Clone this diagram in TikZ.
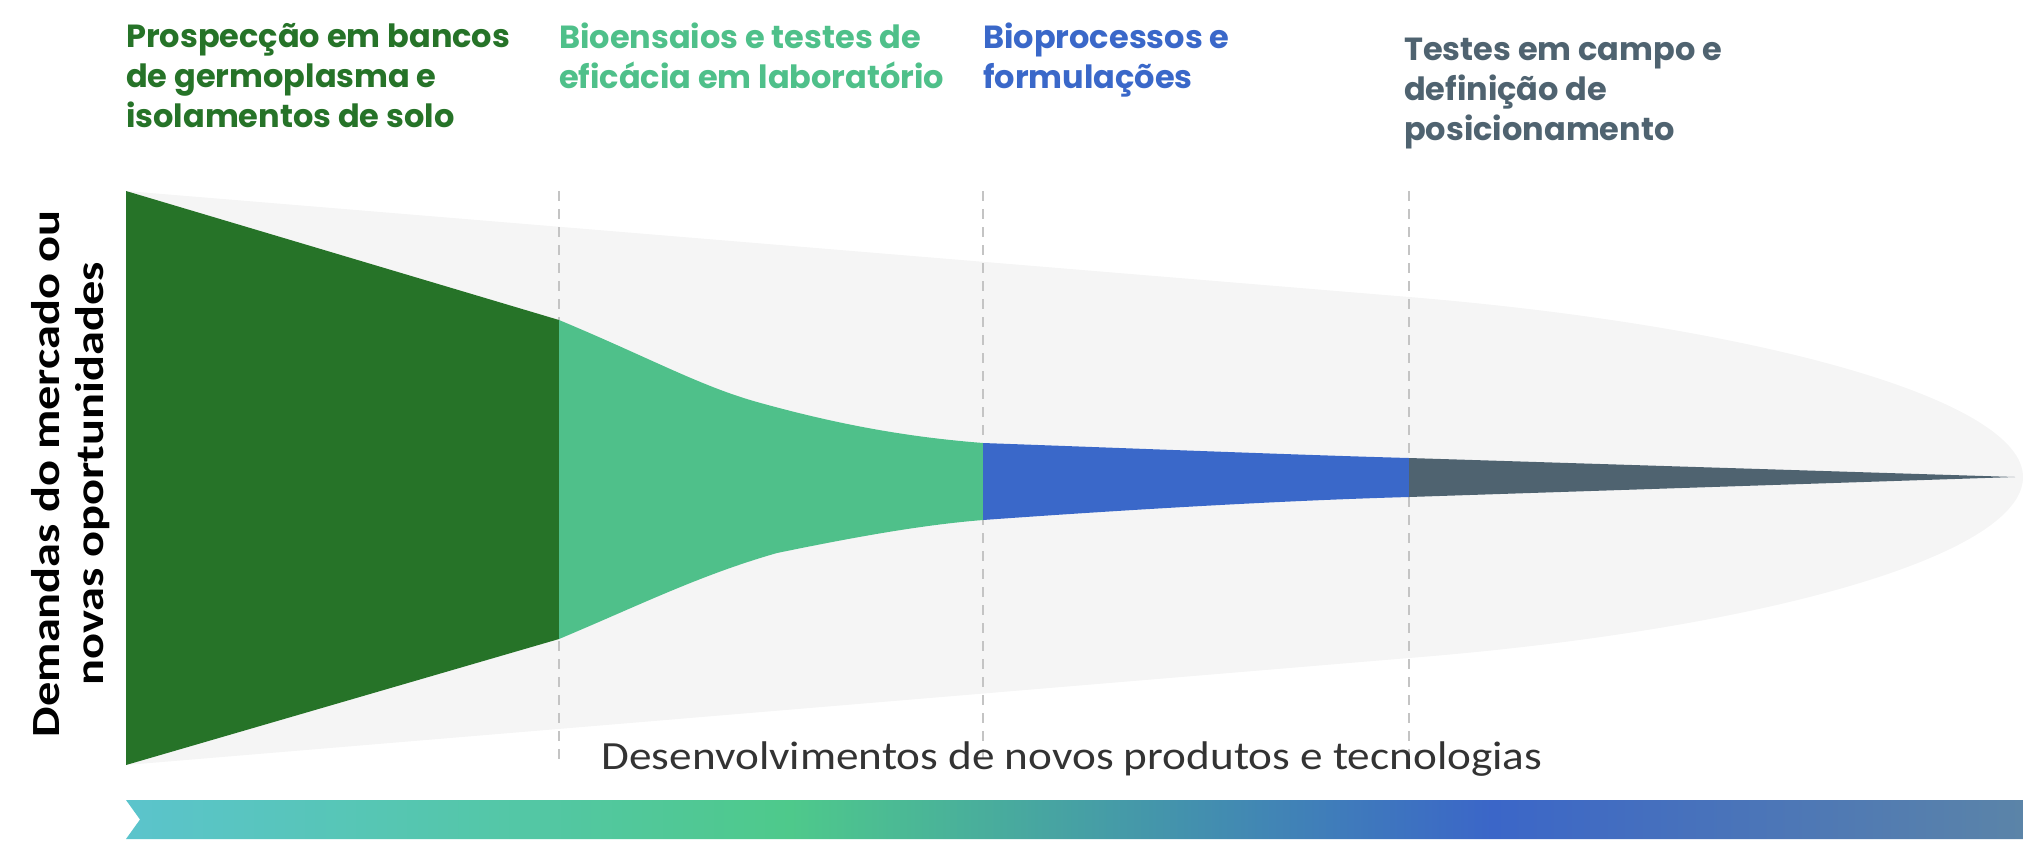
\documentclass[tikz,border=0pt]{standalone}
\usepackage{fontspec}
\usepackage{graphicx}
\setmainfont{Poppins}
\newfontfamily\carlito{Carlito}
\usetikzlibrary{positioning}

\definecolor{prospectgreen}{HTML}{267328}
\definecolor{assaygreen}{HTML}{4FC08A}
\definecolor{processblue}{HTML}{3A68C9}
\definecolor{fieldgray}{HTML}{4F6370}
\definecolor{funnelback}{HTML}{F5F5F5}
\definecolor{stagegray}{HTML}{C4C4C4}
\definecolor{labelgray}{HTML}{333333}
\definecolor{barteal}{HTML}{5BC4CC}
\definecolor{bargreen}{HTML}{4EC98B}
\definecolor{barblue}{HTML}{3B66C8}
\definecolor{barend}{HTML}{5B84A8}

\pgfdeclarehorizontalshading{barshade}{100bp}{color(0bp)=(barteal); color(25bp)=(barteal); color(42.5bp)=(bargreen); color(61bp)=(barblue); color(75bp)=(barend); color(100bp)=(barend)}

\begin{document}
\begin{tikzpicture}[x=1pt, y=-1pt,
        stagetitle/.style={anchor=north west, inner sep=0pt, align=left, font=\bfseries\fontsize{32}{40}\selectfont},
        stageline/.style={draw=stagegray, line width=1.5pt, dash pattern=on 10pt off 8pt}
        ]
        \useasboundingbox (0,0) rectangle (2023,847);

        % background funnel
        \fill[funnelback] (126,191) -- (1409,297) .. controls (1760,326) and (2023,400) .. (2023,477)
            .. controls (2023,556) and (1760,630) .. (1409,658) -- (126,765) -- cycle;

        % stage borders
        \coordinate (s1top) at (559,191);
        \coordinate (s1bot) at (559,761);
        \coordinate (s2top) at (983,191);
        \coordinate (s2bot) at (983,761);
        \coordinate (s3top) at (1409,191);
        \coordinate (s3bot) at (1409,761);
        \draw[stageline] (s1top) -- (s1bot);
        \draw[stageline] (s2top) -- (s2bot);
        \draw[stageline] (s3top) -- (s3bot);

        % stages
        \fill[prospectgreen] (126,191) -- (559,320) -- (559,639) -- (126,765) -- cycle;
        \fill[assaygreen] (559,320) .. controls (650,358) and (700,386) .. (757,402)
            .. controls (850,428) and (920,438) .. (983,443) -- (983,520)
            .. controls (920,525) and (850,538) .. (777,553)
            .. controls (700,575) and (640,605) .. (559,639) -- cycle;
        \fill[processblue] (983,443) .. controls (1150,449) and (1300,455) .. (1409,458) -- (1409,497)
            .. controls (1300,500) and (1150,508) .. (983,520) -- cycle;
        \fill[fieldgray] (1409,458) -- (2015,477) -- (1409,497) -- cycle;

        % titles
        \node[stagetitle, text=prospectgreen] (prospect) at (126,23) {Prospecção em bancos\\de germoplasma e\\isolamentos de solo};
        \node[stagetitle, text=assaygreen] (assay) at (559,23) {Bioensaios e testes de\\eficácia em laboratório};
        \node[stagetitle, text=processblue] (process) at (983,23) {Bioprocessos e\\formulações};
        \node[stagetitle, text=fieldgray] (field) at (1404,38) {Testes em campo e\\definição de\\posicionamento};

        \node[rotate=90, align=center, font=\carlito\bfseries\fontsize{40}{44}\selectfont] (demand) at (71,474)
            {\scalebox{1.21}[1]{Demandas do mercado ou}\\\scalebox{1.21}[1]{novas oportunidades}};
        \node[font=\carlito\fontsize{40}{40}\selectfont, text=labelgray] (develop) at (1072,759)
            {\scalebox{1.13}[1]{Desenvolvimentos de novos produtos e tecnologias}};

        % timeline bar
        \shade[shading=barshade] (126,800) -- (2023,800) -- (2023,839) -- (126,839) -- (140,819.5) -- cycle;
    \end{tikzpicture}
\end{document}
